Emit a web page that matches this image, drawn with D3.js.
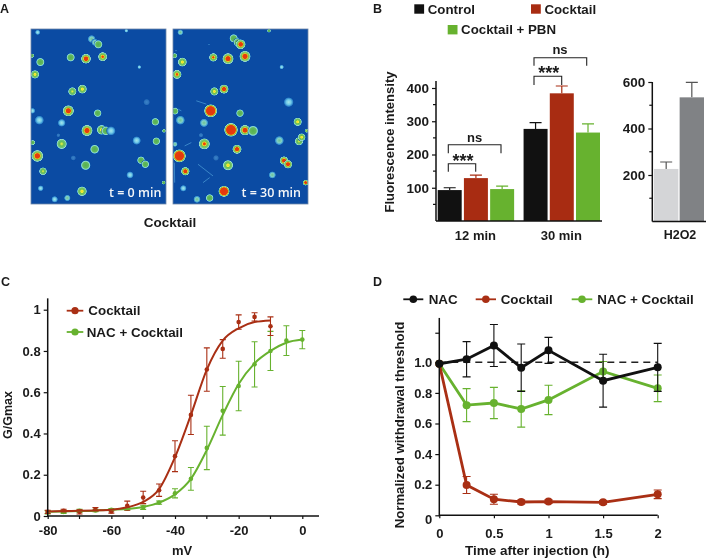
<!DOCTYPE html>
<html><head><meta charset="utf-8">
<script src="https://cdn.jsdelivr.net/npm/d3@7/dist/d3.min.js"></script>
<style>
html,body{margin:0;padding:0;background:#fff}
svg{display:block;filter:blur(0.35px)}
text{font-family:"Liberation Sans",Arial,sans-serif;font-weight:700;fill:#1a1a1a}
</style></head><body>
<svg id="fig" width="709" height="560"></svg>
<script>
// ---- Panel A: heat spots [x, y, radius, level], in crop units of each image
const spotsT0 = [[20,10,5,1],[182,30,9,1.5],[192,40,8,1.5],[202,46,10,2],[119,85,10,2],[165,89,12,4],[215,83,11,3.5],[28,99,10,2],[12,136,10,3],[124,187,10,2.5],[154,180,11,3],[112,245,14,4],[200,252,9,2],[25,273,11,1],[4,245,6,1],[92,281,9,1],[168,304,14,4],[212,302,12,3],[225,305,11,2],[240,305,11,1],[373,278,9,2],[317,334,10,1],[376,336,9,2],[386,324,8,1.8],[92,344,13,2.5],[191,360,11,2],[19,380,15,4],[330,393,9,2],[343,405,9,2],[164,408,12,2],[36,426,9,2.5],[297,437,8,1],[398,460,3,2],[29,477,6,1],[153,486,12,3],[71,510,7,1],[109,506,7,1.5],[3,80,4,2],[325,114,3,1],[286,5,3,1],[399,305,3,2],[5,340,5,2]];
const faintT0 = [[347,219,10],[82,318,6],[127,386,8]];
const spotsT30 = [[22,10,6,1.5],[182,28,10,2],[194,40,10,2],[203,46,12,4],[121,85,10,3.5],[165,89,14,4],[216,82,14,4],[28,99,11,3],[12,136,11,3.5],[124,187,10,3],[153,180,11,4],[113,245,17,4.5],[201,252,9,2],[22,273,11,1.5],[6,246,8,2],[93,281,10,1.5],[174,302,18,4.5],[216,303,13,4],[240,305,13,2],[374,278,10,3],[319,334,11,1.5],[378,336,10,2.5],[386,324,9,3],[94,344,14,3.5],[192,360,11,4],[19,380,17,4.5],[333,394,10,4],[345,405,10,4],[165,408,13,3],[37,426,10,4],[298,437,8,1.5],[398,460,6,4],[31,477,7,1],[153,486,14,4.5],[72,510,8,1.5],[110,506,9,2],[5,80,5,2],[326,114,4,1],[288,5,3,2],[401,305,3,2.5],[6,345,5,1.5],[347,219,12,1]];
const faintT30 = [[129,386,9],[84,318,7],[108,46,3],[9,65,3]];
const streaksT30 = [[[4,400],[5,460]],[[70,215],[100,225]],[[5,235],[25,245]],[[75,405],[120,440]],[[90,460],[110,445]],[[35,350],[55,340]]];
const imageExtent = [405, 524];

// ---- Panel B
const groupsB = ["12 min","30 min"];
const seriesB = ["Control","Cocktail","Cocktail + PBN"];
const meansB = [[93,129,96],[277,384,266]];
const errTopB = [[100,138,105],[296,406,292]];
const ticksB = [100,200,300,400];
const minorB = [50,150,250,350];
const h2o2Means = [226,534];
const h2o2ErrTop = [256,598];
const ticksH = [200,400,600];
const minorH = [100,300,500];

// ---- Panel C
const voltage = [-80,-75,-70,-65,-60,-55,-50,-45,-40,-35,-30,-25,-20,-15,-10,-5,0];
const cocktailG = [.02,.025,.02,.033,.022,.05,.09,.125,.29,.49,.71,.81,.94,.965,.92];
const cocktailErr = [.008,.008,.01,.008,.008,.022,.03,.03,.075,.095,.105,.045,.035,.02,.045];
const cocktailFit = [.022,.024,.025,.027,.03,.042,.068,.13,.285,.49,.71,.85,.91,.94,.948];
const nacG = [.018,.02,.025,.027,.03,.035,.042,.065,.11,.18,.33,.51,.63,.735,.80,.85,.855];
const nacErr = [.008,.008,.008,.006,.006,.006,.01,.008,.022,.055,.105,.118,.12,.11,.095,.072,.044];
const nacFit = [.02,.022,.024,.026,.03,.034,.044,.065,.105,.18,.32,.49,.64,.74,.80,.84,.855];
const ticksCx = [-80,-60,-40,-20,0];
const minorCx = [-70,-50,-30,-10];
const ticksCy = [0,.2,.4,.6,.8,1];

// ---- Panel D
const hours = [0,.25,.5,.75,1,1.5,2];
const nacD = [.99,1.02,1.11,.965,1.078,.88,.967];
const nacDerr = [0,.115,.137,.155,.085,.173,.157];
const cocktailD = [.99,.198,.105,.087,.09,.085,.137];
const cocktailDerr = [0,.056,.033,.012,.012,.012,.028];
const nacCockD = [.99,.72,.734,.695,.754,.94,.83];
const nacCockDerr = [0,.108,.102,.119,.096,.065,.087];
const ticksDx = [0,.5,1,1.5,2];
const ticksDy = [0,.2,.4,.6,.8,1];

const BLACK="#111", RED="#a82c12", GREEN="#67b22f", DRED="#a92f14", BG="#0b4ba3";
const svg = d3.select("#fig");
const defs = svg.append("defs");

function label(t,x,y,size,anchor,rot){
  const e = svg.append("text").text(t).attr("font-size",size).attr("text-anchor",anchor||"start").attr("dominant-baseline","central");
  if(rot) e.attr("transform",`translate(${x},${y}) rotate(-90)`); else e.attr("x",x).attr("y",y);
  return e;
}
[["A",0,9],["B",373,9],["C",1,282],["D",373,282]].forEach(d=>label(d[0],d[1],d[2],12.5));

// ---------- A
const levelStops = {
  1:[[0,"#a6e6e8"],[.5,"#6ec8e8"],[.85,"#2a80c8"],[1,BG]],
  1.5:[[0,"#6ec490"],[.5,"#80d0c8"],[.85,"#2f8ccf"],[1,BG]],
  2:[[0,"#56b04e"],[.6,"#62ba60"],[.8,"#92dcc8"],[.93,"#3a96d4"],[1,BG]],
  2.5:[[0,"#f4f040"],[.22,"#a8d850"],[.4,"#62ba58"],[.72,"#70c47a"],[.86,"#9ce0d0"],[.95,"#3a96d4"],[1,BG]],
  3:[[0,"#f6d810"],[.25,"#f2f040"],[.42,"#6cbc50"],[.72,"#74c674"],[.86,"#9ce0d0"],[.95,"#3a96d4"],[1,BG]],
  3.5:[[0,"#e63a08"],[.2,"#ee5008"],[.34,"#f0dc28"],[.5,"#70be50"],[.78,"#7ccc88"],[.9,"#a0e0d0"],[.97,"#3a96d4"],[1,BG]],
  4:[[0,"#e23808"],[.38,"#e63c08"],[.5,"#ecc820"],[.62,"#78c050"],[.82,"#88d090"],[.92,"#a4e2d0"],[.98,"#3a96d4"],[1,BG]],
  4.5:[[0,"#e03608"],[.64,"#e63c08"],[.73,"#e8b820"],[.82,"#80c458"],[.92,"#a4e2c8"],[.98,"#3a96d4"],[1,BG]]
};
Object.entries(levelStops).forEach(([k,st])=>{
  const g = defs.append("radialGradient").attr("id","lv"+String(k).replace(".","_"));
  st.forEach(s=>g.append("stop").attr("offset",s[0]).attr("stop-color",s[1]));
});
const fg = defs.append("radialGradient").attr("id","faint");
fg.append("stop").attr("offset",0).attr("stop-color","#3d83c8");
fg.append("stop").attr("offset",.7).attr("stop-color","#2a70bb");
fg.append("stop").attr("offset",1).attr("stop-color",BG);
defs.append("filter").attr("id","soft").append("feGaussianBlur").attr("stdDeviation",.5);

function heat(x0,spots,faint,streaks,caption,capX){
  const w=135,h=175,y0=29;
  const sx=d3.scaleLinear().domain([0,imageExtent[0]]).range([x0,x0+w]);
  const sy=d3.scaleLinear().domain([0,imageExtent[1]]).range([y0,y0+h]);
  const sr=d3.scaleLinear().domain([0,imageExtent[0]]).range([0,w]);
  const id="clip"+x0;
  defs.append("clipPath").attr("id",id).append("rect").attr("x",x0).attr("y",y0).attr("width",w).attr("height",h);
  const g=svg.append("g").attr("clip-path",`url(#${id})`);
  g.append("rect").attr("x",x0).attr("y",y0).attr("width",w).attr("height",h).attr("fill",BG);
  const inner=g.append("g").attr("filter","url(#soft)");
  inner.selectAll(".st").data(streaks).join("line").attr("x1",d=>sx(d[0][0])).attr("y1",d=>sy(d[0][1])).attr("x2",d=>sx(d[1][0])).attr("y2",d=>sy(d[1][1])).attr("stroke","#3f8ccc").attr("stroke-width",.9);
  inner.selectAll(".f").data(faint).join("circle").attr("cx",d=>sx(d[0])).attr("cy",d=>sy(d[1])).attr("r",d=>sr(d[2])).attr("fill","url(#faint)");
  inner.selectAll(".s").data(spots).join("circle").attr("cx",d=>sx(d[0])).attr("cy",d=>sy(d[1])).attr("r",d=>sr(d[2])+1)
    .attr("fill",d=>`url(#lv${String(d[3]).replace(".","_")})`);
  svg.append("rect").attr("x",x0).attr("y",y0).attr("width",w).attr("height",h).attr("fill","none").attr("stroke","#6f87a8").attr("stroke-width",.8);
  svg.append("text").text(caption).attr("x",capX).attr("y",192).attr("dominant-baseline","central")
    .attr("font-size",12.5).style("font-family","'Open Sans'").style("font-weight",600).style("fill","#f4f6f8");
}
heat(31,spotsT0,faintT0,[],"t = 0 min",109);
heat(173,spotsT30,faintT30,streaksT30,"t = 30 min",241.5);
label("Cocktail",170,222,13.5,"middle");

// ---------- B
const yB = d3.scaleLinear().domain([0,400]).range([221,88]);
const gB = d3.scaleBand().domain(groupsB).range([437.7,600]).paddingInner(.11);
const sB = d3.scaleBand().domain(seriesB).range([0,gB.bandwidth()]).paddingInner(.085);
const colB = d3.scaleOrdinal().domain(seriesB).range([BLACK,RED,GREEN]);
groupsB.forEach((g,i)=>seriesB.forEach((s,j)=>{
  const x=gB(g)+sB(s), w=sB.bandwidth(), c=colB(s), m=x+w/2;
  svg.append("path").attr("d",`M${m},${yB(meansB[i][j])}V${yB(errTopB[i][j])}M${m-6},${yB(errTopB[i][j])}H${m+6}`)
    .attr("stroke",c).attr("stroke-width",1.2).attr("fill","none");
  svg.append("rect").attr("x",x).attr("y",yB(meansB[i][j])).attr("width",w).attr("height",yB(0)-yB(meansB[i][j])).attr("fill",c);
}));
function leftAxis(x,scale,major,minor,fmt,size,bottomLen,topVal){
  const g=svg.append("g").attr("transform",`translate(${x},0)`);
  const ax=d3.axisLeft(scale).tickValues(major).tickSize(4).tickPadding(3).tickFormat(fmt);
  g.call(ax);
  g.selectAll("text").attr("font-size",size).style("fill","#1a1a1a");
  g.select(".domain").remove();
  g.selectAll(".tick line").attr("stroke",BLACK).attr("stroke-width",1.2);
  if(minor) g.selectAll(".mt").data(minor).join("line").attr("x1",-3).attr("x2",0).attr("y1",d=>scale(d)).attr("y2",d=>scale(d)).attr("stroke",BLACK).attr("stroke-width",1.2);
  g.append("line").attr("y1",scale(topVal)).attr("y2",scale(0)+(bottomLen||0)).attr("stroke",BLACK).attr("stroke-width",1.5);
  return g;
}
leftAxis(436,yB,ticksB,minorB,d3.format("d"),13.5,0,421);
svg.append("line").attr("x1",436).attr("x2",602).attr("y1",yB(0)).attr("y2",yB(0)).attr("stroke",BLACK).attr("stroke-width",1.5);
groupsB.forEach(g=>label(g,gB(g)+gB.bandwidth()/2-.5,235,13,"middle"));
label("Fluorescence intensity",389,142,13,"middle",true);
// legend
const legB=[[414.3,"Control",0,4.3],[531,"Cocktail",1,4.3],[447.7,"Cocktail + PBN",2,25]];
legB.forEach(d=>{
  svg.append("rect").attr("x",d[0]).attr("y",d[3]).attr("width",9.8).attr("height",9.4).attr("fill",colB(seriesB[d[2]]));
  label(seriesB[d[2]],d[0]+13.4,d[3]+4.9,13.3);
});
// brackets
function bracket(xa,xb,top,bot){
  svg.append("path").attr("d",`M${xa},${bot}V${top}H${xb}V${bot}`).attr("fill","none").attr("stroke","#222").attr("stroke-width",1.1);
}
bracket(448.3,475.7,163.7,171.7);bracket(448.3,501,144.7,153.3);
bracket(534,561.7,76.3,85);bracket(534,586.7,57.7,65.7);
label("ns",474.7,137.5,13,"middle");label("ns",560,49.5,13,"middle");
label("***",463,161,18,"middle");label("***",548.7,73,18,"middle");

const yH=d3.scaleLinear().domain([0,600]).range([221.5,82]);
const xH=d3.scaleBand().domain(["a","b"]).range([654,704]).paddingInner(.05);
const colH=["#d4d5d7","#808285"];
["a","b"].forEach((k,i)=>{
  const m=xH(k)+xH.bandwidth()/2;
  svg.append("path").attr("d",`M${m},${yH(h2o2Means[i])}V${yH(h2o2ErrTop[i])}M${m-6},${yH(h2o2ErrTop[i])}H${m+6}`).attr("stroke","#555").attr("stroke-width",1.2).attr("fill","none");
  svg.append("rect").attr("x",xH(k)).attr("y",yH(h2o2Means[i])).attr("width",xH.bandwidth()).attr("height",yH(0)-yH(h2o2Means[i])).attr("fill",colH[i]);
});
leftAxis(652.3,yH,ticksH,minorH,d3.format("d"),13.5,0,600);
svg.append("line").attr("x1",652.3).attr("x2",706).attr("y1",yH(0)).attr("y2",yH(0)).attr("stroke",BLACK).attr("stroke-width",1.5);
label("H2O2",680,235,12.5,"middle");

// ---------- C
const xC=d3.scaleLinear().domain([-80,0]).range([47.7,302.3]);
const yC=d3.scaleLinear().domain([0,1]).range([516,309.7]);
const lineC=d3.line().x(d=>xC(d[0])).y(d=>yC(d[1])).curve(d3.curveMonotoneX);
function errC(vals,errs,col){
  vals.forEach((v,i)=>{
    const x=xC(voltage[i]);
    svg.append("path").attr("d",`M${x},${yC(v-errs[i])}V${yC(v+errs[i])}M${x-3},${yC(v-errs[i])}h6M${x-3},${yC(v+errs[i])}h6`).attr("stroke",col).attr("stroke-width",1.1).attr("fill","none");
    svg.append("circle").attr("cx",x).attr("cy",yC(v)).attr("r",2.3).attr("fill",col);
  });
}
errC(nacG,nacErr,GREEN);
errC(cocktailG,cocktailErr,DRED);
svg.append("path").attr("d",lineC(voltage.map((v,i)=>[v,nacFit[i]]))).attr("fill","none").attr("stroke",GREEN).attr("stroke-width",2);
svg.append("path").attr("d",lineC(cocktailFit.map((f,i)=>[voltage[i],f]))).attr("fill","none").attr("stroke",DRED).attr("stroke-width",2);
const axCy=leftAxis(47.7,yC,ticksCy,null,d=>d===0||d===1?d:d3.format(".1f")(d),13,1,1.055);
const axCx=svg.append("g").attr("transform",`translate(0,516)`).call(d3.axisBottom(xC).tickValues(ticksCx).tickSize(3).tickPadding(7).tickFormat(d=>String(d)));
axCx.selectAll("text").attr("font-size",13).style("fill","#1a1a1a");
axCx.select(".domain").remove();
axCx.selectAll(".tick line").attr("stroke",BLACK).attr("stroke-width",1.2);
axCx.selectAll(".mx").data(minorCx).join("line").attr("x1",d=>xC(d)).attr("x2",d=>xC(d)).attr("y1",0).attr("y2",3).attr("stroke",BLACK).attr("stroke-width",1.2);
svg.append("line").attr("x1",47).attr("x2",319).attr("y1",516).attr("y2",516).attr("stroke",BLACK).attr("stroke-width",1.5);
label("mV",182,550,13,"middle");
label("G/Gmax",8,415,12.5,"middle",true);
function legLine(x1,x2,y,col,t,tx,lw,r){
  svg.append("line").attr("x1",x1).attr("x2",x2).attr("y1",y).attr("y2",y).attr("stroke",col).attr("stroke-width",lw);
  svg.append("circle").attr("cx",(x1+x2)/2).attr("cy",y).attr("r",r).attr("fill",col);
  label(t,tx,y,13.4);
}
legLine(66.7,83.3,310.7,DRED,"Cocktail",88.3,1.8,3.6);
legLine(66.7,83.3,332,GREEN,"NAC + Cocktail",86.7,1.8,3.6);

// ---------- D
const xD=d3.scaleLinear().domain([0,2]).range([439.3,657.7]);
const yD=d3.scaleLinear().domain([0,1]).range([515.3,362.3]);
svg.append("line").attr("x1",xD(0)).attr("x2",xD(2)).attr("y1",yD(1)).attr("y2",yD(1)).attr("stroke","#222").attr("stroke-width",1.5).attr("stroke-dasharray","7 5");
const lineD=d3.line().x((d,i)=>xD(hours[i])).y(d=>yD(d));
function seriesD(vals,errs,col){
  vals.forEach((v,i)=>{
    if(!errs[i]) return;
    const x=xD(hours[i]);
    svg.append("path").attr("d",`M${x},${yD(v-errs[i])}V${yD(v+errs[i])}M${x-4},${yD(v-errs[i])}h8M${x-4},${yD(v+errs[i])}h8`).attr("stroke",col).attr("stroke-width",1.1).attr("fill","none");
  });
  svg.append("path").attr("d",lineD(vals)).attr("fill","none").attr("stroke",col).attr("stroke-width",2.8);
  svg.selectAll(null).data(vals).join("circle").attr("cx",(d,i)=>xD(hours[i])).attr("cy",d=>yD(d)).attr("r",4).attr("fill",col);
}
seriesD(nacCockD,nacCockDerr,GREEN);
seriesD(cocktailD,cocktailDerr,DRED);
seriesD(nacD,nacDerr,BLACK);
const axDy=leftAxis(439.3,yD,ticksDy,null,d=>d===0?"0":d3.format(".1f")(d),13,1,1.29);
axDy.selectAll(".tick text").filter(d=>d===0).attr("dy","0.62em");
svg.append("line").attr("x1",435.3).attr("x2",439.3).attr("y1",yD(1.19)).attr("y2",yD(1.19)).attr("stroke",BLACK).attr("stroke-width",1.2);
const axDx=svg.append("g").attr("transform","translate(0,515.3)").call(d3.axisBottom(xD).tickValues(ticksDx).tickSize(3).tickPadding(10).tickFormat(d=>d));
axDx.selectAll("text").attr("font-size",13).style("fill","#1a1a1a");
axDx.select(".domain").remove();
axDx.selectAll(".tick line").attr("stroke",BLACK).attr("stroke-width",1.2);
svg.append("line").attr("x1",439).attr("x2",657.7).attr("y1",515.3).attr("y2",515.3).attr("stroke",BLACK).attr("stroke-width",1.5);
label("Time after injection (h)",537.3,550,13.5,"middle");
label("Normalized withdrawal threshold",399.3,425,13.2,"middle",true);
legLine(403.3,423.3,299.3,BLACK,"NAC",428.7,1.8,3.8);
legLine(475.7,496,299.3,DRED,"Cocktail",500.7,1.8,3.8);
legLine(571.7,592.3,299.3,GREEN,"NAC + Cocktail",597.3,1.8,3.8);
</script></body></html>
